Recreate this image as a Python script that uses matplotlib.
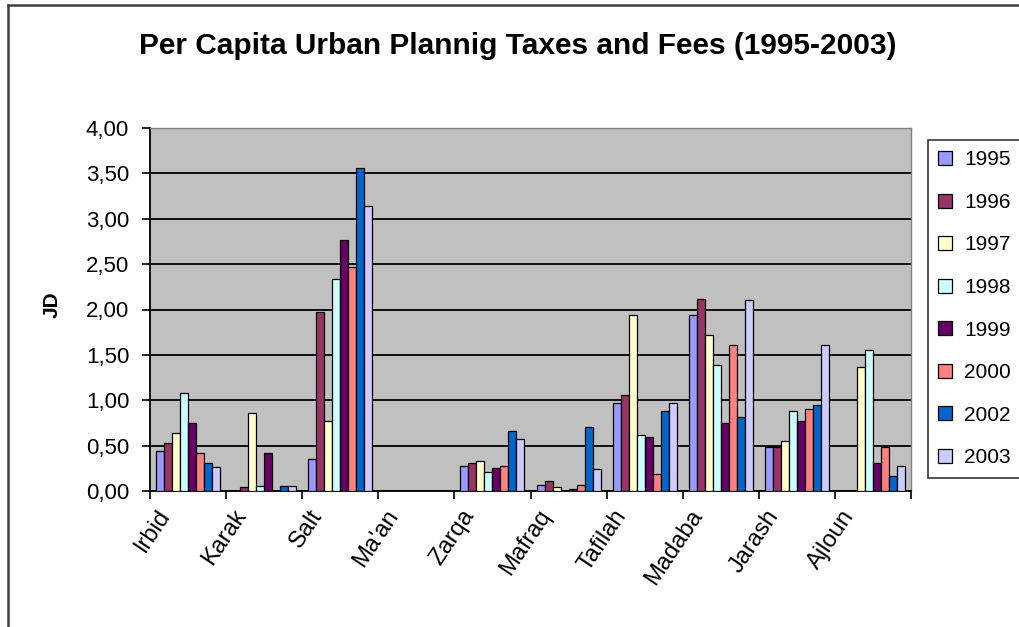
import numpy as np
import matplotlib
matplotlib.use("Agg")
import matplotlib.pyplot as plt
from matplotlib.patches import Patch
from matplotlib.lines import Line2D
from matplotlib.ticker import FuncFormatter, FixedLocator

plt.rcParams['font.family'] = ['Liberation Sans', 'DejaVu Sans']

categories = ["Irbid", "Karak", "Salt", "Ma'an", "Zarqa", "Mafraq",
              "Tafilah", "Madaba", "Jarash", "Ajloun"]
years = ["1995", "1996", "1997", "1998", "1999", "2000", "2002", "2003"]
nan = np.nan
v1995 = [0.44, nan, 0.35, nan, 0.27, 0.07, 0.97, 1.94, 0.49, nan]
v1996 = [0.53, 0.04, 1.97, nan, 0.31, 0.11, 1.06, 2.12, 0.49, nan]
v1997 = [0.64, 0.86, 0.77, nan, 0.33, 0.04, 1.94, 1.72, 0.55, 1.37]
v1998 = [1.08, 0.06, 2.34, nan, 0.21, nan, 0.62, 1.39, 0.88, 1.55]
v1999 = [0.75, 0.42, 2.77, nan, 0.25, 0.02, 0.59, 0.75, 0.77, 0.31]
v2000 = [0.42, nan, 2.47, nan, 0.27, 0.07, 0.19, 1.61, 0.90, 0.49]
v2002 = [0.31, 0.06, 3.56, nan, 0.66, 0.71, 0.88, 0.81, 0.95, 0.17]
v2003 = [0.26, 0.06, 3.14, nan, 0.57, 0.24, 0.97, 2.10, 1.61, 0.28]
series = [v1995, v1996, v1997, v1998, v1999, v2000, v2002, v2003]
colors = ["#9999FF", "#993366", "#FFFFCC", "#CCFFFF", "#660066",
          "#FF8080", "#0066CC", "#CCCCFF"]
yticks = [0.0, 0.5, 1.0, 1.5, 2.0, 2.5, 3.0, 3.5, 4.0]

W, H = 1020, 627
fig = plt.figure(figsize=(W / 100, H / 100), dpi=100)
fig.patch.set_facecolor("white")

ax = fig.add_axes([150 / W, 1 - 491 / H, (911 - 150) / W, (491 - 128) / H])
ax.set_facecolor("#C0C0C0")

n = len(series)
bw = 1.0 / (n + 1.5)
x = np.arange(len(categories))
for j, (vals, c) in enumerate(zip(series, colors)):
    ax.bar(x + (j - (n - 1) / 2) * bw, vals, width=bw, color=c,
           edgecolor="black", linewidth=0.9, label=years[j], zorder=3)

ax.set_xlim(-0.5, len(categories) - 0.5)
ax.set_ylim(0, 4.0)
ax.set_yticks(yticks)
ax.yaxis.set_major_formatter(FuncFormatter(lambda v, p: f"{v:.2f}".replace(".", ",")))
ax.grid(axis="y", color="black", linewidth=1.3, zorder=1)
ax.set_axisbelow(True)

# category boundary ticks (major) and labels (minor)
ax.xaxis.set_major_locator(FixedLocator(np.arange(-0.5, len(categories), 1.0)))
ax.xaxis.set_major_formatter(FuncFormatter(lambda v, p: ""))
ax.set_xticks(x - 0.30, categories, minor=True)
ax.tick_params(axis="x", which="major", direction="out", length=6, width=1.2, color="black")
ax.tick_params(axis="x", which="minor", length=0, pad=15)
ax.tick_params(axis="y", direction="out", length=6, width=1.2, labelsize=16, pad=9)
for lab in ax.get_xticklabels(minor=True):
    lab.set_rotation(56)
    lab.set_ha("right")
    lab.set_va("center")
    lab.set_rotation_mode("anchor")
    lab.set_fontsize(17)

for s in ["left", "bottom"]:
    ax.spines[s].set_color("black")
    ax.spines[s].set_linewidth(1.3)
for s in ["top", "right"]:
    ax.spines[s].set_color("#808080")
    ax.spines[s].set_linewidth(1.0)

ax.set_ylabel("JD", fontsize=15, fontweight="bold")
ax.yaxis.set_label_coords((62 - 150) / 761, (491 - 305) / 363)

fig.text(518 / W, 1 - 46 / H, "Per Capita Urban Plannig Taxes and Fees (1995-2003)",
         ha="center", va="center", fontsize=21.5, fontweight="bold")

handles = [Patch(facecolor=c, edgecolor="black", linewidth=0.9) for c in colors]
leg = fig.legend(handles, years, loc="upper left",
                 bbox_to_anchor=(928 / W, 1 - 140 / H), borderaxespad=0,
                 fontsize=15, frameon=True, fancybox=False, shadow=False,
                 handlelength=0.65, handleheight=0.65, handletextpad=0.6,
                 labelspacing=1.13, borderpad=0.5)
leg.get_frame().set_edgecolor("black")
leg.get_frame().set_linewidth(1.2)

# chart area border (top and left visible)
fig.add_artist(Line2D([8 / W, 1.0], [1 - 5 / H, 1 - 5 / H], color="#404040", linewidth=1.8))
fig.add_artist(Line2D([8 / W, 8 / W], [0.0, 1 - 5 / H], color="#404040", linewidth=1.8))

fig.savefig("out.png", dpi=100)
